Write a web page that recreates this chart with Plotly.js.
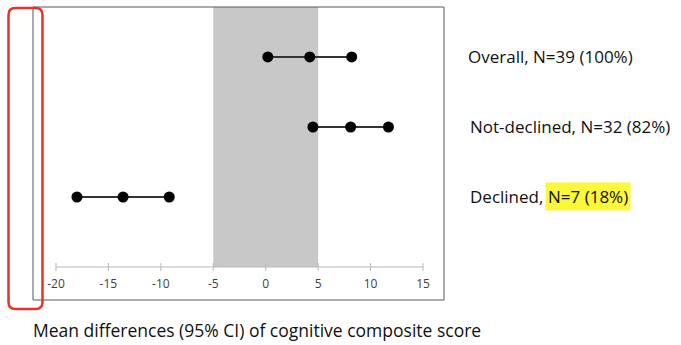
<!DOCTYPE html>
<html>
<head>
<meta charset="utf-8">
<script src="https://cdn.plot.ly/plotly-3.0.1.min.js"></script>
<style>html,body{margin:0;padding:0;background:#fff;}#chart{width:681px;height:345px;}</style>
</head>
<body>
<div id="chart"></div>
<script>
// ---- data ----
const groups = ["Overall", "Not-declined", "Declined"];
const groupLabels = ["Overall, N=39 (100%)", "Not-declined, N=32 (82%)", "Declined, "];
const highlightLabel = "N=7 (18%)";
const rowPos = [3, 2, 1];
const lower = [0.2, 4.5, -18.0];
const mean = [4.2, 8.1, -13.6];
const upper = [8.2, 11.7, -9.2];
const tickVals = [-20, -15, -10, -5, 0, 5, 10, 15];
const tickText = ["-20", "-15", "-10", "-5", "0", "5", "10", "15"];
const equivBand = [-5, 5];
const xTitle = "Mean differences (95% CI) of cognitive composite score";

// ---- layout helpers ----
const W = 681, H = 345, ML = 33, MR = 237, MT = 7, MB = 45;
const PW = W - ML - MR, PH = H - MT - MB;
const px = x => (x - ML) / PW;
const py = y => (H - MB - y) / PH;
const xRange = [-22.19, 17.0];
const yRange = [-0.4714, 3.714];
const FONT = "Open Sans, sans-serif";

const traces = groups.map((g, i) => ({
  type: "scatter",
  mode: "lines+markers",
  name: g,
  x: [lower[i], mean[i], upper[i]],
  y: [rowPos[i], rowPos[i], rowPos[i]],
  line: {color: "#333333", width: 2},
  marker: {color: "#000000", size: 11},
  hoverinfo: "x"
}));

const shapes = [];
shapes.push({type: "rect", xref: "x", yref: "y", x0: equivBand[0], x1: equivBand[1], y0: 0, y1: yRange[1],
  fillcolor: "#c8c8c8", line: {width: 0}, layer: "below"});
shapes.push({type: "line", xref: "x", yref: "y", x0: tickVals[0], x1: tickVals[tickVals.length - 1], y0: 0, y1: 0,
  line: {color: "#b8b8b8", width: 1}});
tickVals.forEach(v => shapes.push({type: "line", xref: "x", yref: "y", ysizemode: "pixel", yanchor: 0,
  x0: v, x1: v, y0: -4, y1: 4, line: {color: "#b8b8b8", width: 1}}));
shapes.push({type: "rect", xref: "paper", yref: "paper", x0: 0, x1: 1, y0: 0, y1: 1,
  line: {color: "#595959", width: 1}, fillcolor: "rgba(0,0,0,0)"});
// red rounded highlight box
(function () {
  const L = 8.5, R = 42.5, T = 8, B = 309, r = 7;
  const p = (x, y) => px(x) + "," + py(y);
  const path = "M" + p(L + r, T) + " L" + p(R - r, T) + " Q" + p(R, T) + " " + p(R, T + r) +
    " L" + p(R, B - r) + " Q" + p(R, B) + " " + p(R - r, B) +
    " L" + p(L + r, B) + " Q" + p(L, B) + " " + p(L, B - r) +
    " L" + p(L, T + r) + " Q" + p(L, T) + " " + p(L + r, T) + " Z";
  shapes.push({type: "path", xref: "paper", yref: "paper", path: path,
    line: {color: "#e8322b", width: 2.5}, fillcolor: "rgba(0,0,0,0)"});
})();

const LBL_SIZE = 17;
function textWidth(t, size) {
  const c = document.createElement("canvas").getContext("2d");
  c.font = size + "px 'Open Sans'";
  return c.measureText(t).width;
}
const labelX = [466, 468, 468];
const annotations = groupLabels.map((t, i) => ({
  xref: "paper", yref: "y", x: px(labelX[i]), y: rowPos[i], xanchor: "left", yanchor: "middle",
  text: t, showarrow: false, font: {family: FONT, size: LBL_SIZE, color: "#111111"}
}));
const hlStart = labelX[2] + textWidth(groupLabels[2], LBL_SIZE);
annotations.push({xref: "paper", yref: "y", x: px(hlStart - 1), y: rowPos[2], xanchor: "left", yanchor: "middle",
  text: highlightLabel, showarrow: false, bgcolor: "#fbf73a", borderpad: 2,
  font: {family: FONT, size: LBL_SIZE, color: "#111111"}});
annotations.push({xref: "paper", yref: "paper", x: px(31), y: py(330), xanchor: "left", yanchor: "middle",
  text: xTitle, showarrow: false, font: {family: FONT, size: 17.5, color: "#111111"}});

const layout = {
  width: W, height: H,
  margin: {l: ML, r: MR, t: MT, b: MB, pad: 0},
  paper_bgcolor: "#ffffff", plot_bgcolor: "#ffffff",
  showlegend: false,
  xaxis: {range: xRange, anchor: "free", position: py(267), showline: false, showgrid: false, zeroline: false,
    ticks: "", tickmode: "array", tickvals: tickVals, ticktext: tickText, ticklabelstandoff: 8,
    tickfont: {family: FONT, size: 12, color: "#404040"}, fixedrange: true},
  yaxis: {range: yRange, visible: false, showgrid: false, zeroline: false, fixedrange: true},
  shapes: shapes,
  annotations: annotations
};

Plotly.newPlot("chart", traces, layout, {staticPlot: true, displayModeBar: false});
</script>
</body>
</html>
